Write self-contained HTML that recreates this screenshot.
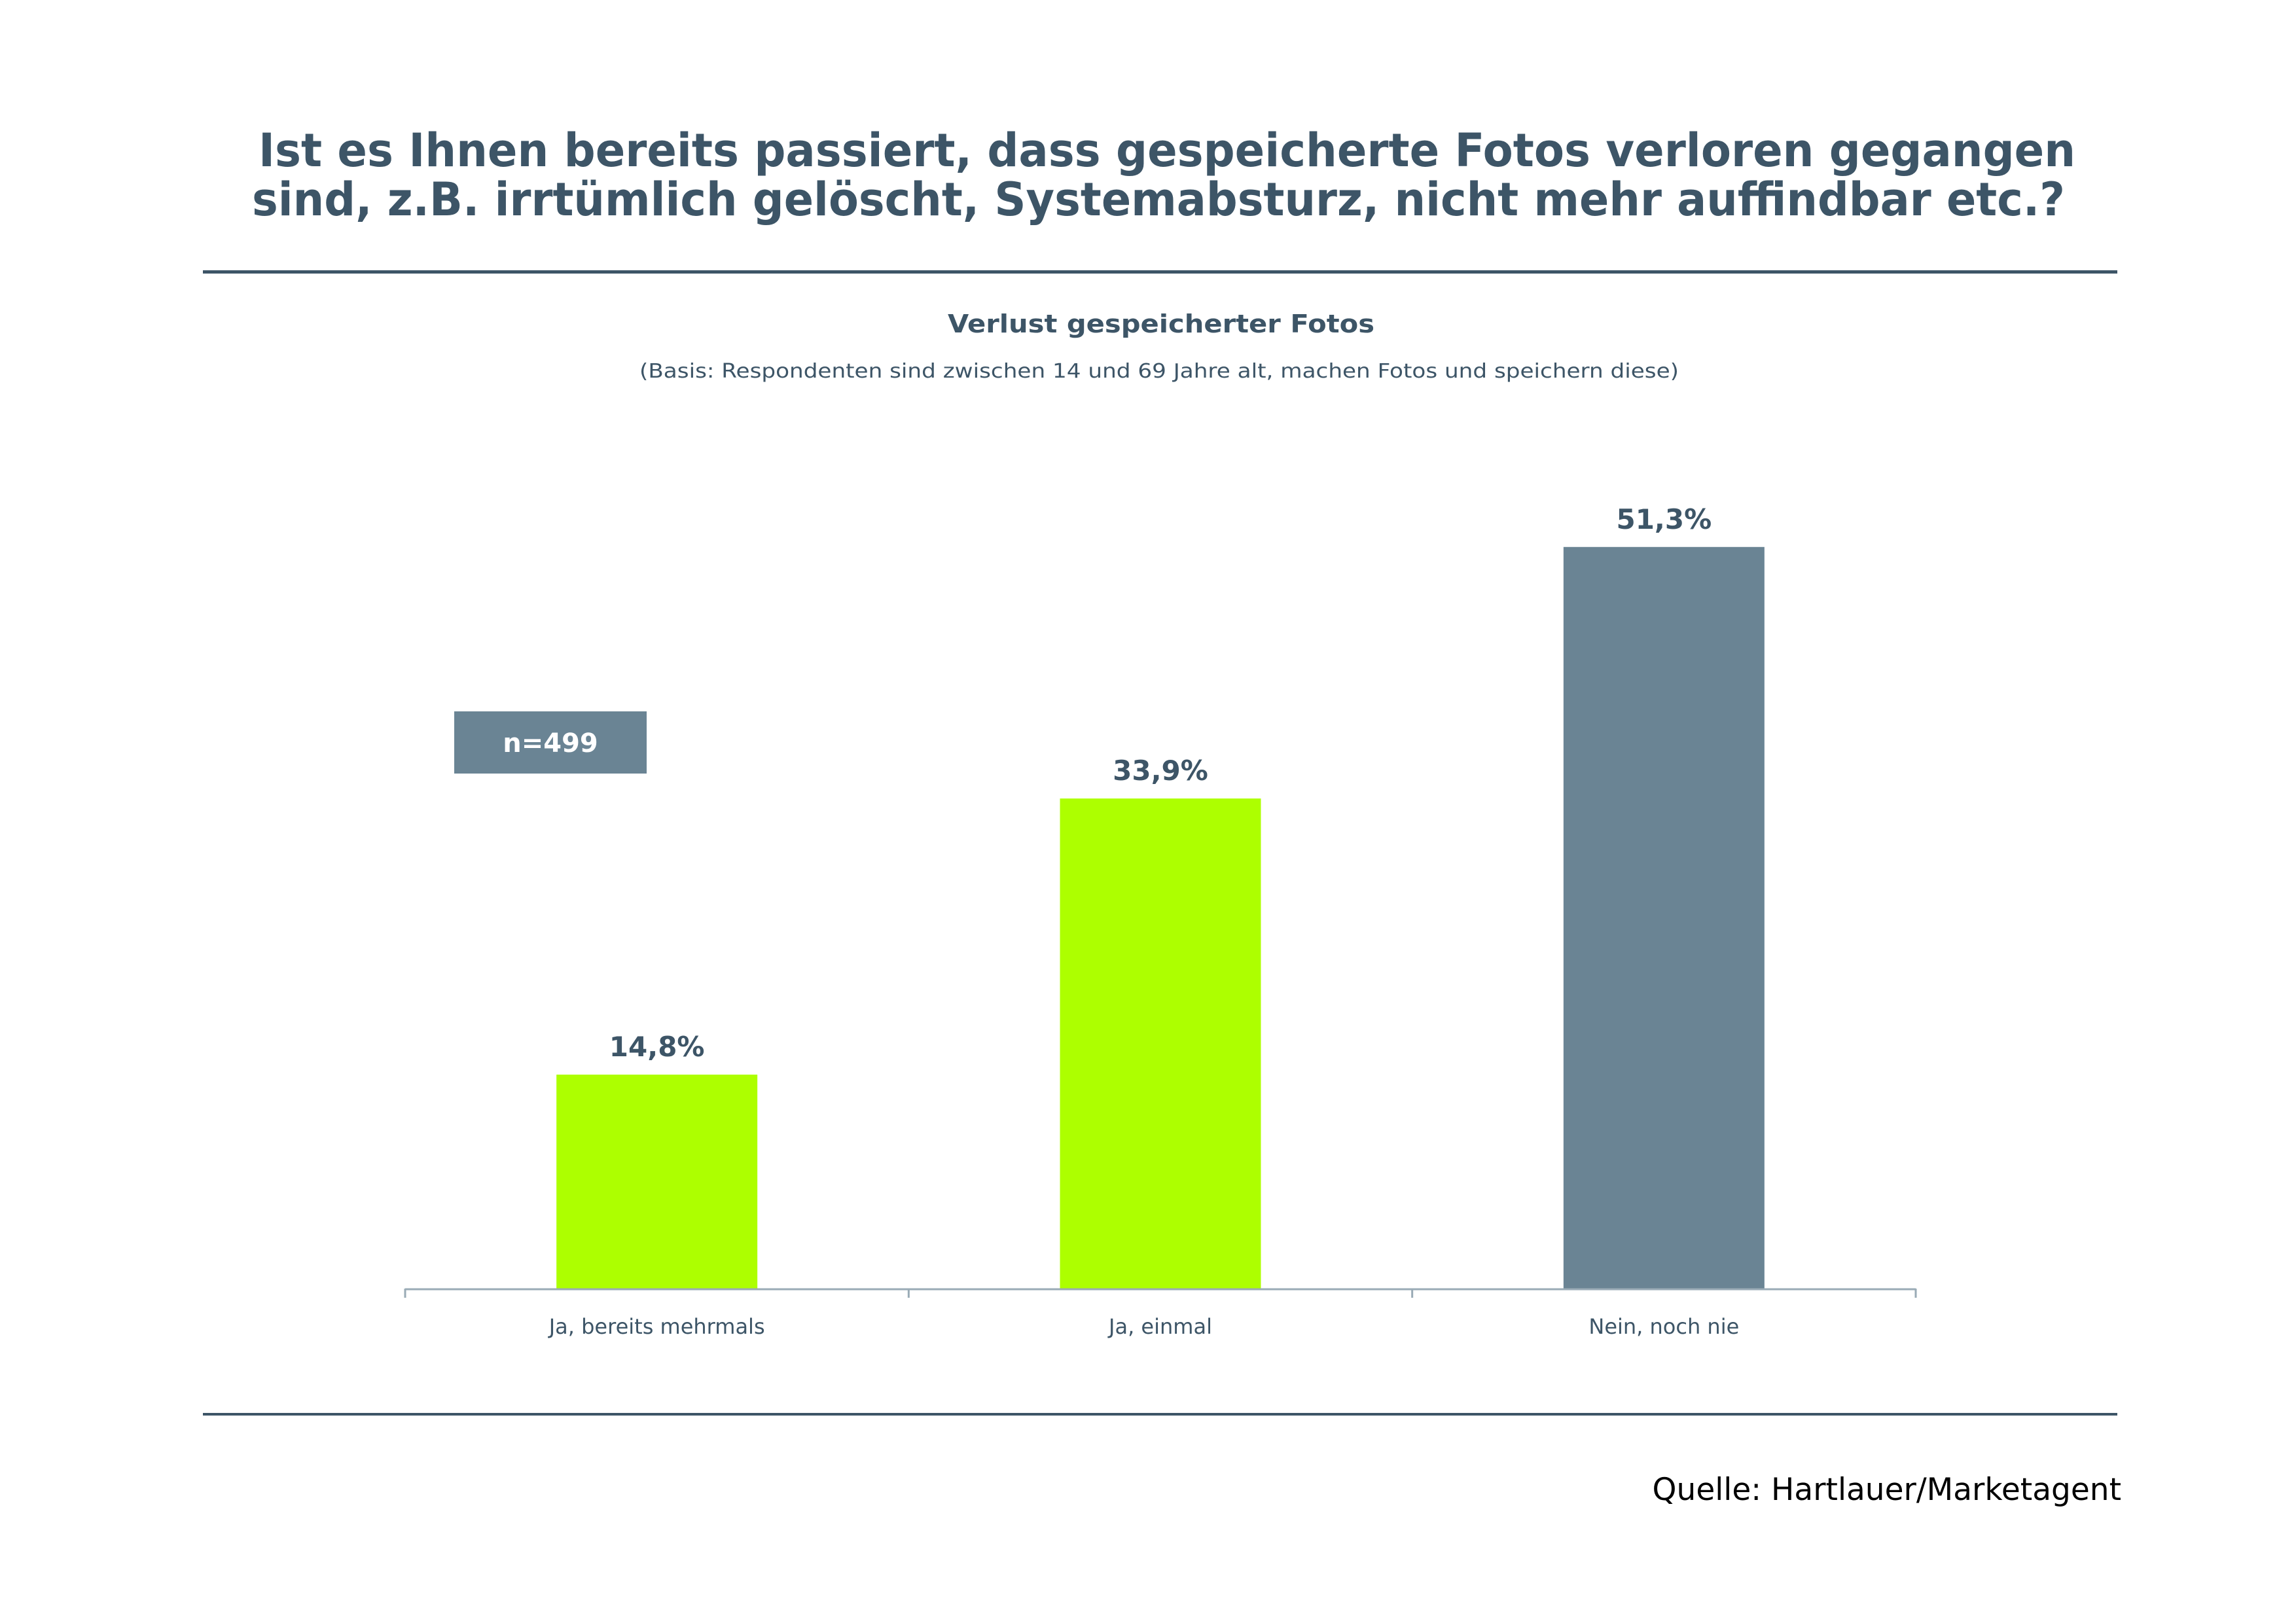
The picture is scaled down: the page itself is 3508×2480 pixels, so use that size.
<!DOCTYPE html>
<html><head><meta charset="utf-8"><style>
html,body{margin:0;padding:0;background:#fff;}
svg{display:block;font-family:"DejaVu Sans","Liberation Sans",sans-serif;}
</style></head><body>
<svg id="chart" width="3508" height="2480" viewBox="0 0 3508 2480" xmlns="http://www.w3.org/2000/svg">
<rect width="3508" height="2480" fill="#fff"/>
<g fill="#3d5567" font-weight="bold" font-size="70" text-anchor="middle">
<text x="1783" y="254" textLength="2776" lengthAdjust="spacingAndGlyphs">Ist es Ihnen bereits passiert, dass gespeicherte Fotos verloren gegangen</text>
<text x="1770" y="329" textLength="2770" lengthAdjust="spacingAndGlyphs">sind, z.B. irrtümlich gelöscht, Systemabsturz, nicht mehr auffindbar etc.?</text>
</g>
<rect x="310" y="413" width="2925" height="5" fill="#3d5567"/>
<text x="1774" y="508" fill="#3d5567" font-weight="bold" font-size="38" text-anchor="middle" textLength="652" lengthAdjust="spacingAndGlyphs">Verlust gespeicherter Fotos</text>
<text x="1771" y="577" fill="#3d5567" font-size="30" text-anchor="middle" textLength="1588" lengthAdjust="spacingAndGlyphs">(Basis: Respondenten sind zwischen 14 und 69 Jahre alt, machen Fotos und speichern diese)</text>
<rect x="694" y="1087" width="294" height="95" fill="#6a8494"/>
<text x="841" y="1149" fill="#fff" font-weight="bold" font-size="40" text-anchor="middle">n=499</text>
<g id="plot"></g>
<rect x="310" y="2159" width="2925" height="4" fill="#3d5567"/>
<text x="3241" y="2292" fill="#000" font-size="47" text-anchor="end">Quelle: Hartlauer/Marketagent</text>
</svg>
<script>
const categories = ["Ja, bereits mehrmals", "Ja, einmal", "Nein, noch nie"];
const values = [14.8, 33.9, 51.3];
const valueLabels = ["14,8%", "33,9%", "51,3%"];
const colors = ["#adff00", "#adff00", "#6a8494"];

const NS = "http://www.w3.org/2000/svg";
const plot = document.getElementById("plot");
const x0 = 619, x1 = 2927, baseY = 1969, pxPerUnit = 22.09;
const band = (x1 - x0) / categories.length;
const barW = 307;
const yScale = v => baseY - v * pxPerUnit;
const xCenter = i => x0 + band * (i + 0.5);

function mk(tag, attrs) {
  const el = document.createElementNS(NS, tag);
  for (const k in attrs) el.setAttribute(k, attrs[k]);
  return el;
}

categories.forEach((c, i) => {
  const top = yScale(values[i]);
  const bar = mk("rect", {x: xCenter(i) - barW / 2, y: top, width: barW, height: baseY - top, fill: colors[i]});
  
  
  plot.appendChild(bar);
  const lbl = mk("text", {x: xCenter(i), y: top - 28, fill: "#3d5567", "font-weight": "bold", "font-size": "42", "text-anchor": "middle"});
  lbl.textContent = valueLabels[i];
  
  
  plot.appendChild(lbl);
  const cl = mk("text", {x: xCenter(i), y: 2038, fill: "#3d5567", "font-size": "32", "text-anchor": "middle"});
  cl.textContent = c;
  
  
  plot.appendChild(cl);
});
const axis = mk("line", {x1: x0, x2: x1, y1: baseY + 1, y2: baseY + 1, stroke: "#9aabb6", "stroke-width": "3"});


plot.appendChild(axis);
for (let i = 0; i <= categories.length; i++) {
  const t = mk("line", {x1: x0 + band * i, x2: x0 + band * i, y1: baseY, y2: baseY + 14, stroke: "#9aabb6", "stroke-width": "3"});
  
  
  plot.appendChild(t);
}
</script>
</body></html>
